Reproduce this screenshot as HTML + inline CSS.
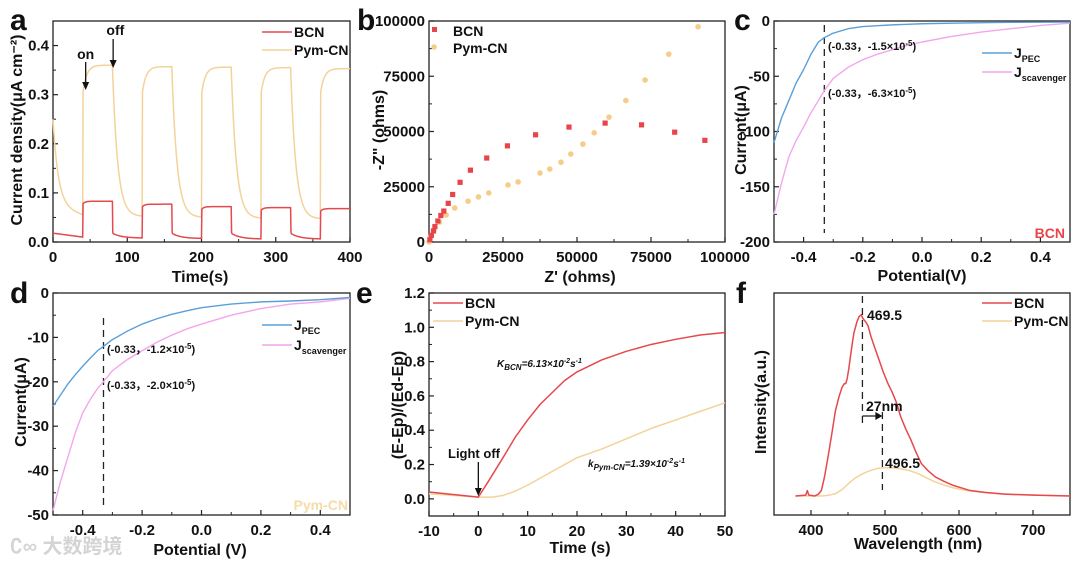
<!DOCTYPE html>
<html><head><meta charset="utf-8">
<style>
html,body{margin:0;padding:0;background:#fff;}
svg{display:block;font-family:"Liberation Sans",Arial,sans-serif;}
</style></head>
<body>
<svg id="fig" width="1080" height="564" viewBox="0 0 1080 564" xmlns="http://www.w3.org/2000/svg"></svg>
<script>
// ---------- Panel a data ----------
const aCycleOn = [40, 120, 200, 280, 360];
const aPymHigh = [0.36, 0.357, 0.356, 0.355, 0.353];
const aPymLow = [0.055, 0.052, 0.05, 0.048, 0.047];
const aBcnHigh = [0.083, 0.077, 0.072, 0.07, 0.068];
const aBcnLow = [0.01, 0.008, 0.007, 0.006, 0.006];
const aXTicks = [0, 100, 200, 300, 400];
const aYTicks = [0.0, 0.1, 0.2, 0.3, 0.4];
// ---------- Panel b data ----------
const bBcnX = [300,800,1500,2000,3000,4000,5000,6500,8000,10500,14000,19500,26500,36000,47300,59500,71800,83000,93200];
const bBcnY = [1000,3000,5000,7000,9500,12000,14000,17500,21500,27000,32500,38000,43500,48500,52000,53800,53000,49700,46000];
const bPymX = [0,500,1700,3500,5800,8700,13200,16700,20200,26700,30100,37500,40800,44600,47900,52000,55800,60800,66500,73000,81000,90900];
const bPymY = [0,2300,5400,9000,12200,15400,18500,20400,22200,25800,27200,31200,33000,36100,39800,44300,49400,56500,64000,73300,85000,97400];
const bTicks = [0, 25000, 50000, 75000, 100000];
// ---------- Panel c data ----------
const cV = [-0.5,-0.475,-0.45,-0.425,-0.4,-0.375,-0.35,-0.33,-0.3,-0.25,-0.2,-0.15,-0.1,-0.05,0,0.1,0.2,0.3,0.4,0.5];
const cPec = [-110,-88,-72,-56,-44,-30,-19,-15,-11,-7,-5,-4.2,-3.5,-3,-2.5,-2,-1.5,-1.2,-1.1,-1];
const cScav = [-175,-147,-123,-108,-96,-83,-72,-63,-52,-42,-35,-30,-26,-22,-19,-14,-10,-7,-4,-2];
const cXTicks = [-0.4,-0.2,0.0,0.2,0.4];
const cYTicks = [0,-50,-100,-150,-200];
// ---------- Panel d data ----------
const dV = [-0.5,-0.475,-0.45,-0.425,-0.4,-0.375,-0.35,-0.33,-0.3,-0.25,-0.2,-0.15,-0.1,-0.05,0,0.1,0.2,0.3,0.4,0.5];
const dPec = [-25.5,-23,-20.5,-18.4,-16.5,-14.7,-13,-12,-10.5,-8.6,-7,-5.8,-4.8,-4,-3.3,-2.5,-2,-1.8,-1.5,-1];
const dScav = [-49,-42.5,-37,-31.5,-27,-24,-21.5,-20,-17.5,-15,-13,-11.1,-9.5,-8.1,-7,-5,-3.5,-2.5,-2,-1.2];
const dYTicks = [0,-10,-20,-30,-40,-50];
// ---------- Panel e data ----------
const eBcnT = [-10,0,2,5,7.5,10,12.5,15,17.5,20,25,30,35,40,45,50];
const eBcn = [0.04,0.01,0.1,0.24,0.36,0.46,0.55,0.62,0.69,0.74,0.81,0.86,0.9,0.93,0.955,0.97];
const ePymT = [-10,0,3,5,7.5,10,15,20,25,30,35,40,45,50];
const ePym = [0.03,0.01,0.01,0.02,0.045,0.08,0.16,0.24,0.29,0.35,0.41,0.46,0.51,0.56];
const eXTicks = [-10,0,10,20,30,40,50];
const eYTicks = [0.0,0.2,0.4,0.6,0.8,1.0,1.2];
// ---------- Panel f data ----------
const fBcnW = [379,393,395,397,405,410,414,418,423,428,433,438,442,445,447,449,451,455,458,462,465,468,470,474,477,481,486,492,498,504,510,516,521,528,535,542,549,558,568,580,591,603,615,635,661,700,750];
const fBcn = [0,0.5,3,0.5,0,1,3,10,21.5,34,47,55,60,62,62,65,70,82,90,96,99,100,98,96,94,88,82,75,68,62,57,51,44,37,31,24,18,14,10.5,8,6,4.5,3,2,1,0.5,0];
const fPymW = [379,414,425,433,442,451,460,470,480,490,498,510,521,533,545,556,568,580,591,610,638,680,750];
const fPym = [0,0,0.5,1.3,3.5,7,10,12.3,14,15.2,15.6,15.6,15,14,12.3,10,7.7,6,4.6,3,1.7,0.8,0];
const fXTicks = [400,500,600,700];

const NS = "http://www.w3.org/2000/svg";
const svg = document.getElementById('fig');
function el(tag, attrs, parent, txt){
  const e = document.createElementNS(NS, tag);
  for (const k in attrs) e.setAttribute(k, attrs[k]);
  if (txt !== undefined) e.textContent = txt;
  (parent || svg).appendChild(e);
  return e;
}
function lin(d0,d1,r0,r1){ return v => r0 + (v-d0)/(d1-d0)*(r1-r0); }

function makePanel(name, box, xd, yd, xTicks, yTicks, xFmt, yFmt, minorX, minorY){
  const g = el('g', {});
  
  
  const X = lin(xd[0], xd[1], box.l, box.r);
  const Y = lin(yd[0], yd[1], box.b, box.t);
  const frame = el('rect', {x:box.l, y:box.t, width:box.r-box.l, height:box.b-box.t, fill:'none', stroke:'#222', 'stroke-width':1.3}, g);
  
  
  const xa = el('g', {}, g);
  
  
  xTicks.forEach(t => {
    const x = X(t);
    el('line', {x1:x, x2:x, y1:box.b, y2:box.b-5, stroke:'#222', 'stroke-width':1.2}, xa);
    const lb = el('text', {x:x, y:box.b+20, 'text-anchor':'middle', 'font-size':15, 'font-weight':'bold', fill:'#111'}, xa, xFmt(t));
    
    
  });
  if (minorX) minorX.forEach(t => { const x = X(t); el('line', {x1:x,x2:x,y1:box.b,y2:box.b-3,stroke:'#222','stroke-width':1}, xa); });
  const ya = el('g', {}, g);
  
  
  yTicks.forEach(t => {
    const y = Y(t);
    el('line', {x1:box.l, x2:box.l+5, y1:y, y2:y, stroke:'#222', 'stroke-width':1.2}, ya);
    if (yFmt) {
      const lb = el('text', {x:box.l-4, y:y+5, 'text-anchor':'end', 'font-size':15, 'font-weight':'bold', fill:'#111'}, ya, yFmt(t));
      
      
    }
  });
  if (minorY) minorY.forEach(t => { const y = Y(t); el('line', {x1:box.l,x2:box.l+3,y1:y,y2:y,stroke:'#222','stroke-width':1}, ya); });
  return {g, X, Y};
}
function poly(p, xs, ys, color, name, w){
  let d = '';
  xs.forEach((x,i) => { d += (i?'L':'M') + p.X(x).toFixed(2) + ',' + p.Y(ys[i]).toFixed(2); });
  const path = el('path', {d:d, fill:'none', stroke:color, 'stroke-width':w||1.4, 'stroke-linejoin':'round'}, p.g);
  
  
  return path;
}
function text(x,y,s,opts,name,parent){
  const t = el('text', Object.assign({x:x,y:y,'font-size':15,'font-weight':'bold',fill:'#111'}, opts||{}), parent, s);
  
  
  return t;
}
function legendLine(p, x, y, color, label, name){
  const g = el('g', {}, p.g);
  
  
  el('line', {x1:x, x2:x+30, y1:y, y2:y, stroke:color, 'stroke-width':1.5}, g);
  const t = el('text', {x:x+32, y:y+5, 'font-size':14, 'font-weight':'bold', fill:'#111'}, g);
  t.innerHTML = label;
  return g;
}
function panelLetter(x,y,s){
  return text(x,y,s,{'font-size':30,'font-weight':'bold'},'panel-label-'+s);
}
const RED = '#e5484d', YEL = '#f3d39a', BLUE = '#5b9fd8', PINK = '#f4a6ec';
const f1 = v => v.toFixed(1);
const f0 = v => String(v);

// ===== Panel a =====
{
  const p = makePanel('panel-a', {l:53,r:350,t:21,b:242}, [0,400], [0,0.45], aXTicks, aYTicks, f0, f1,
    [50,150,250,350], [0.05,0.15,0.25,0.35]);
  const pX=[], pY=[], bX=[], bY=[];
  const startPym = 0.25, startBcn = 0.018;
  for (let t=0;t<=40;t+=1){ const k=Math.exp(-t/7); pX.push(t); pY.push(aPymLow[0]+(startPym-aPymLow[0])*k + 0.02*(1-t/40)*(1-k)); bX.push(t); bY.push(aBcnLow[0]+(startBcn-aBcnLow[0])*(1-t/40)); }
  aCycleOn.forEach((on,i) => {
    const off = on+40, nextLow = aPymLow[i+1]!==undefined ? aPymLow[i+1] : aPymLow[i];
    const lowPrev = aPymLow[i];
    for (let t=0;t<=40;t+=0.5){
      const v = t===0 ? lowPrev : aPymHigh[i] - (aPymHigh[i]-0.3)*Math.exp(-t/5);
      pX.push(on+t); pY.push(v);
      bX.push(on+t); bY.push(t===0 ? aBcnLow[i] : aBcnHigh[i] - 0.006*Math.exp(-t/3));
    }
    if (off < 400) {
      const nl = aBcnLow[i+1]!==undefined ? aBcnLow[i+1] : aBcnLow[i];
      for (let t=0.5;t<=40;t+=0.5){
        pX.push(off+t); pY.push(nextLow + (aPymHigh[i]-nextLow)*Math.exp(-t/7));
        bX.push(off+t); bY.push(t<1 ? 0.02 : nl + (0.018-nl)*Math.exp(-t/12));
      }
    }
  });
  poly(p, pX, pY, YEL, 'pym-cn-line', 1.5);
  poly(p, bX, bY, RED, 'bcn-line', 1.5);
  legendLine(p, 262, 32, RED, 'BCN', 'legend-entry-bcn');
  legendLine(p, 262, 50, YEL, 'Pym-CN', 'legend-entry-pym-cn');
  const arr = (x,y1,y2,name) => { const g=el('g',{},p.g);  
    el('line',{x1:x,x2:x,y1:y1,y2:y2-6,stroke:'#111','stroke-width':1.3},g);
    el('path',{d:`M${x-3.5},${y2-8}L${x+3.5},${y2-8}L${x},${y2}Z`,fill:'#111'},g); };
  arr(p.X(44), 62, 90, 'on-arrow'); arr(p.X(81), 39, 68, 'off-arrow');
  text(p.X(44), 59, 'on', {'text-anchor':'middle','font-size':14}, 'on-label');
  text(p.X(84), 35, 'off', {'text-anchor':'middle','font-size':14}, 'off-label');
  text(0,0,'Current density(μA cm⁻²)',{'font-size':16,'text-anchor':'middle',transform:'translate(22,130) rotate(-90)'},'y-axis-title-a');
  text(200,282,'Time(s)',{'font-size':16,'text-anchor':'middle'},'x-axis-title-a');
  panelLetter(10,30,'a');
}
// ===== Panel b =====
{
  const p = makePanel('panel-b', {l:429,r:725,t:21,b:242}, [0,100000], [0,100000], bTicks, bTicks, f0, f0,
    [12500,37500,62500,87500],[12500,37500,62500,87500]);
  bPymX.forEach((x,i) => { const c = el('circle',{cx:p.X(x),cy:p.Y(bPymY[i]),r:2.8,fill:'#f5cd88'},p.g);
      });
  bBcnX.forEach((x,i) => { const r = el('rect',{x:p.X(x)-2.6,y:p.Y(bBcnY[i])-2.6,width:5.2,height:5.2,fill:'#e8454a'},p.g);
      });
  const l1=el('rect',{x:432,y:27,width:5,height:5,fill:'#e8454a'},p.g);  
  const l2=el('circle',{cx:434,cy:47,r:2.8,fill:'#f5cd88'},p.g);  
  text(453,36,'BCN',{'font-size':14},'legend-entry-bcn');
  text(453,53,'Pym-CN',{'font-size':14},'legend-entry-pym-cn');
  text(0,0,'-Z" (ohms)',{'font-size':16,'text-anchor':'middle',transform:'translate(384,130) rotate(-90)'},'y-axis-title-b');
  text(580,282,"Z' (ohms)",{'font-size':16,'text-anchor':'middle'},'x-axis-title-b');
  panelLetter(357,30,'b');
}
// ===== Panel c =====
{
  const p = makePanel('panel-c', {l:774,r:1070,t:21,b:242}, [-0.5,0.5], [-200,0], cXTicks, cYTicks, f1, f0,
    [-0.3,-0.1,0.1,0.3],[-25,-75,-125,-175]);
  const dl=el('line',{x1:p.X(-0.33),x2:p.X(-0.33),y1:25,y2:233,stroke:'#222','stroke-width':1.3,'stroke-dasharray':'7,5'},p.g);
   
  poly(p, cV, cScav, PINK, 'j-scavenger-line', 1.4);
  poly(p, cV, cPec, BLUE, 'j-pec-line', 1.4);
  const t1 = text(828,50,'',{'font-size':11},'annotation-pec'); t1.innerHTML='(-0.33，-1.5×10<tspan dy="-4" font-size="8">-5</tspan><tspan dy="4">)</tspan>';
  const t2 = text(828,97,'',{'font-size':11},'annotation-scavenger'); t2.innerHTML='(-0.33，-6.3×10<tspan dy="-4" font-size="8">-5</tspan><tspan dy="4">)</tspan>';
  legendLine(p, 982, 53, BLUE, 'J<tspan dy="4" font-size="9">PEC</tspan>', 'legend-entry-jpec');
  legendLine(p, 982, 72, PINK, 'J<tspan dy="4" font-size="9">scavenger</tspan>', 'legend-entry-jscavenger');
  text(1065,238,'BCN',{'font-size':14,'text-anchor':'end',fill:'#e8454a'},'sample-label-bcn');
  text(0,0,'Current(μA)',{'font-size':16,'text-anchor':'middle',transform:'translate(746,130) rotate(-90)'},'y-axis-title-c');
  text(922,281,'Potential(V)',{'font-size':16,'text-anchor':'middle'},'x-axis-title-c');
  panelLetter(734,30,'c');
}
// ===== Panel d =====
{
  const p = makePanel('panel-d', {l:53,r:350,t:293,b:515}, [-0.5,0.5], [-50,0], cXTicks, dYTicks, f1, f0,
    [-0.3,-0.1,0.1,0.3],[-5,-15,-25,-35,-45]);
  const dl=el('line',{x1:p.X(-0.33),x2:p.X(-0.33),y1:318,y2:508,stroke:'#222','stroke-width':1.3,'stroke-dasharray':'7,5'},p.g);
   
  poly(p, dV, dScav, PINK, 'j-scavenger-line', 1.4);
  poly(p, dV, dPec, BLUE, 'j-pec-line', 1.4);
  const t1 = text(107,353,'',{'font-size':11},'annotation-pec'); t1.innerHTML='(-0.33，-1.2×10<tspan dy="-4" font-size="8">-5</tspan><tspan dy="4">)</tspan>';
  const t2 = text(107,389,'',{'font-size':11},'annotation-scavenger'); t2.innerHTML='(-0.33，-2.0×10<tspan dy="-4" font-size="8">-5</tspan><tspan dy="4">)</tspan>';
  legendLine(p, 262, 325, BLUE, 'J<tspan dy="4" font-size="9">PEC</tspan>', 'legend-entry-jpec');
  legendLine(p, 262, 345, PINK, 'J<tspan dy="4" font-size="9">scavenger</tspan>', 'legend-entry-jscavenger');
  text(348,510,'Pym-CN',{'font-size':14,'text-anchor':'end',fill:'#f6dca8'},'sample-label-pym-cn');
  text(0,0,'Current(μA)',{'font-size':16,'text-anchor':'middle',transform:'translate(26,402) rotate(-90)'},'y-axis-title-d');
  text(200,555,'Potential (V)',{'font-size':16,'text-anchor':'middle'},'x-axis-title-d');
  panelLetter(10,303,'d');
  text(10,553,'∁∞ 大数跨境',{'font-size':20,fill:'#d4d4d4','font-family':'"Liberation Sans","Noto Sans CJK SC",sans-serif'},'watermark');
}
// ===== Panel e =====
{
  const p = makePanel('panel-e', {l:429,r:725,t:293,b:516}, [-10,50], [-0.1,1.2], eXTicks, eYTicks, f0, f1,
    [-5,5,15,25,35,45],[0.1,0.3,0.5,0.7,0.9,1.1]);
  poly(p, ePymT, ePym, YEL, 'pym-cn-line', 1.5);
  poly(p, eBcnT, eBcn, RED, 'bcn-line', 1.5);
  legendLine(p, 433, 303, RED, 'BCN', 'legend-entry-bcn');
  legendLine(p, 433, 321, YEL, 'Pym-CN', 'legend-entry-pym-cn');
  const k1 = text(497,367,'',{'font-size':10,'font-style':'italic'},'rate-label-bcn'); k1.innerHTML='K<tspan dy="3" font-size="8">BCN</tspan><tspan dy="-3">=6.13×10</tspan><tspan dy="-4" font-size="7">-2</tspan><tspan dy="4">s</tspan><tspan dy="-4" font-size="7">-1</tspan>';
  const k2 = text(588,467,'',{'font-size':10,'font-style':'italic'},'rate-label-pym-cn'); k2.innerHTML='k<tspan dy="3" font-size="8">Pym-CN</tspan><tspan dy="-3">=1.39×10</tspan><tspan dy="-4" font-size="7">-2</tspan><tspan dy="4">s</tspan><tspan dy="-4" font-size="7">-1</tspan>';
  text(474,458,'Light off',{'font-size':13,'text-anchor':'middle'},'light-off-label');
  const g=el('g',{},p.g);  
  el('line',{x1:p.X(0),x2:p.X(0),y1:462,y2:490,stroke:'#111','stroke-width':1.3},g);
  el('path',{d:`M${p.X(0)-3.5},${488}L${p.X(0)+3.5},${488}L${p.X(0)},${496}Z`,fill:'#111'},g);
  text(0,0,'(E-Ep)/(Ed-Ep)',{'font-size':16,'text-anchor':'middle',transform:'translate(403,405) rotate(-90)'},'y-axis-title-e');
  text(580,553,'Time (s)',{'font-size':16,'text-anchor':'middle'},'x-axis-title-e');
  panelLetter(356,303,'e');
}
// ===== Panel f =====
{
  const p = makePanel('panel-f', {l:774,r:1070,t:293,b:515}, [350,750], [-10.5,112], fXTicks, [], f0, null,
    [450,550,650],[]);
  poly(p, fPymW, fPym, YEL, 'pym-cn-line', 1.5);
  poly(p, fBcnW, fBcn, RED, 'bcn-line', 1.5);
  const d1=el('line',{x1:p.X(469.5),x2:p.X(469.5),y1:296,y2:425,stroke:'#222','stroke-width':1.3,'stroke-dasharray':'7,5'},p.g);
   
  const d2=el('line',{x1:p.X(496.5),x2:p.X(496.5),y1:412,y2:490,stroke:'#222','stroke-width':1.3,'stroke-dasharray':'7,5'},p.g);
   
  const sh=el('g',{},p.g);  
  el('line',{x1:p.X(469.5),x2:p.X(496.5)-5,y1:416,y2:416,stroke:'#111','stroke-width':1.2},sh);
  el('path',{d:`M${p.X(496.5)-7},412L${p.X(496.5)},416L${p.X(496.5)-7},420Z`,fill:'#111'},sh);
  text(867,320,'469.5',{'font-size':14},'peak-label-bcn');
  text(866,411,'27nm',{'font-size':14},'shift-label');
  text(885,468,'496.5',{'font-size':14},'peak-label-pym-cn');
  legendLine(p, 982, 303, RED, 'BCN', 'legend-entry-bcn');
  legendLine(p, 982, 321, YEL, 'Pym-CN', 'legend-entry-pym-cn');
  text(0,0,'Intensity(a.u.)',{'font-size':16,'text-anchor':'middle',transform:'translate(766,402) rotate(-90)'},'y-axis-title-f');
  text(918,549,'Wavelength (nm)',{'font-size':16,'text-anchor':'middle'},'x-axis-title-f');
  panelLetter(736,303,'f');
}
</script>
</body></html>
